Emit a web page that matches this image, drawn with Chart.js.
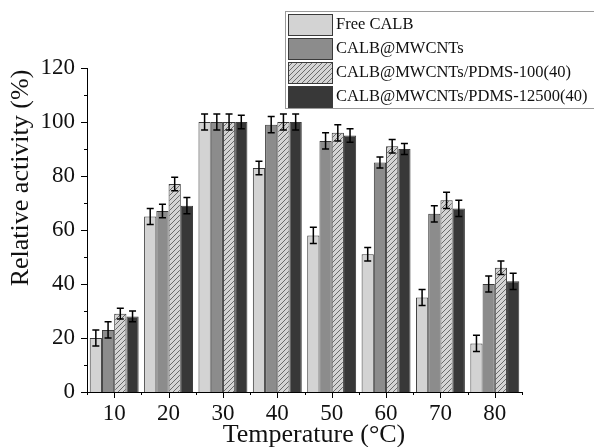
<!DOCTYPE html>
<html>
<head>
<meta charset="utf-8">
<script src="https://cdn.jsdelivr.net/npm/chart.js@4"></script>
<style>
  html, body { margin: 0; padding: 0; background: #fff; }
  #wrap { width: 594px; height: 447px; }
</style>
</head>
<body>
<div id="wrap"><canvas id="myChart" width="594" height="447"></canvas></div>
<script>
// temperatures (°C)
const temperatures = ['10', '20', '30', '40', '50', '60', '70', '80'];

// relative activity (%) for each sample
const freeCalb   = [20, 65, 100, 83, 58, 51, 35, 18];
const mwcnts     = [23, 67, 100, 99, 93, 85, 66, 40];
const pdms100    = [29, 77, 100, 100, 96, 91, 71, 46];
const pdms12500  = [28, 69, 100, 100, 95, 90, 68, 41];

// error bars (±)
const freeCalbErr  = [3, 3, 3, 2.5, 3, 2.5, 3, 3];
const mwcntsErr    = [3, 2.5, 3, 3, 3, 2, 3, 3];
const pdms100Err   = [2, 2.5, 3, 3, 3, 2.5, 3, 2.5];
const pdms12500Err = [2, 3, 2.5, 3, 2.5, 2, 3, 3];

const seriesNames = ['Free CALB', 'CALB@MWCNTs', 'CALB@MWCNTs/PDMS-100(40)', 'CALB@MWCNTs/PDMS-12500(40)'];

const yMin = 0, yMax = 120, yStep = 20;

const serif = "'Liberation Serif', 'DejaVu Serif', serif";

// hatch pattern for the PDMS-100 bars
function makeHatch() {
  const n = 5;
  const c = document.createElement('canvas');
  c.width = n; c.height = n;
  const g = c.getContext('2d');
  g.fillStyle = '#d4d4d4';
  g.fillRect(0, 0, n, n);
  g.strokeStyle = '#6a6a6a';
  g.lineWidth = 1;
  g.beginPath();
  g.moveTo(-1, n + 1); g.lineTo(n + 1, -1);
  g.moveTo(-1, 1); g.lineTo(1, -1);
  g.moveTo(n - 1, n + 1); g.lineTo(n + 1, n - 1);
  g.stroke();
  return g.createPattern(c, 'repeat');
}

const ctx = document.getElementById('myChart').getContext('2d');
const hatch = makeHatch();

const fills = ['#d3d3d3', '#8c8c8c', hatch, '#383838'];
const values = [freeCalb, mwcnts, pdms100, pdms12500];
const errors = [freeCalbErr, mwcntsErr, pdms100Err, pdms12500Err];

const datasets = seriesNames.map((name, i) => ({
  label: name,
  data: values[i],
  errors: errors[i],
  backgroundColor: fills[i],
  borderColor: '#3a3a3a',
  borderWidth: 1,
  categoryPercentage: 0.9,
  barPercentage: 1.0
}));

// error bars, minor ticks, axis titles and boxed legend
const decorations = {
  id: 'decorations',
  afterDatasetsDraw(chart) {
    const c = chart.ctx;
    const y = chart.scales.y;
    c.save();
    c.strokeStyle = '#000';
    c.lineWidth = 1.5;
    chart.data.datasets.forEach((ds, i) => {
      const meta = chart.getDatasetMeta(i);
      meta.data.forEach((bar, j) => {
        const v = ds.data[j], e = ds.errors[j];
        const top = y.getPixelForValue(v + e);
        const bot = y.getPixelForValue(v - e);
        c.beginPath();
        c.moveTo(bar.x, top); c.lineTo(bar.x, bot);
        c.moveTo(bar.x - 3.5, top); c.lineTo(bar.x + 3.5, top);
        c.moveTo(bar.x - 3.5, bot); c.lineTo(bar.x + 3.5, bot);
        c.stroke();
      });
    });
    c.restore();
  },
  afterDraw(chart) {
    const c = chart.ctx;
    const x = chart.scales.x, y = chart.scales.y;
    const area = chart.chartArea;
    c.save();
    c.strokeStyle = '#000';
    c.lineWidth = 1;
    // y ticks
    for (let v = yMin; v <= yMax; v += 10) {
      const py = Math.round(y.getPixelForValue(v)) + 0.5;
      const len = v % yStep === 0 ? 6 : 3;
      c.beginPath();
      c.moveTo(area.left - len, py); c.lineTo(area.left, py);
      c.stroke();
    }
    // x ticks: centres and group boundaries
    const step = (area.right - area.left) / temperatures.length;
    for (let k = 0; k <= temperatures.length; k++) {
      const bx = Math.round(area.left + k * step) + 0.5;
      c.beginPath();
      c.moveTo(bx, area.bottom); c.lineTo(bx, area.bottom + 3);
      c.stroke();
    }
    temperatures.forEach((t, k) => {
      const cx = Math.round(x.getPixelForValue(k)) + 0.5;
      c.beginPath();
      c.moveTo(cx, area.bottom); c.lineTo(cx, area.bottom + 6);
      c.stroke();
    });

    // axis titles
    c.fillStyle = '#111';
    c.font = '26px ' + serif;
    c.textAlign = 'center';
    c.textBaseline = 'middle';
    c.fillText('Temperature (°C)', 314, 435);
    c.save();
    c.translate(21, 178);
    c.rotate(-Math.PI / 2);
    c.fillText('Relative activity (%)', 0, 0);
    c.restore();

    // legend box (right side runs off the canvas)
    c.fillStyle = '#fff';
    c.fillRect(285, 11, 340, 97);
    c.strokeStyle = '#9a9a9a';
    c.lineWidth = 1;
    c.strokeRect(285.5, 11.5, 340, 97);
    chart.data.datasets.forEach((ds, i) => {
      const top = 14 + i * 24;
      c.fillStyle = ds.backgroundColor;
      c.fillRect(288, top, 44, 21);
      c.strokeStyle = '#3a3a3a';
      c.strokeRect(288.5, top + 0.5, 44, 21);
      c.fillStyle = '#111';
      c.font = '16.5px ' + serif;
      c.textAlign = 'left';
      c.textBaseline = 'middle';
      c.fillText(ds.label, 336, top + 11);
    });
    c.restore();
  }
};

const config = {
  type: 'bar',
  data: { labels: temperatures, datasets: datasets },
  options: {
    responsive: false,
    animation: false,
    layout: { padding: { top: 68, right: 72, left: 0, bottom: 0 } },
    plugins: {
      legend: { display: false },
      tooltip: { enabled: false }
    },
    scales: {
      x: {
        grid: { display: false },
        border: { display: true, color: '#000', width: 1 },
        ticks: { color: '#111', font: { family: serif, size: 23 }, padding: 0, maxRotation: 0 },
        afterFit(scale) { scale.height = 55; }
      },
      y: {
        min: yMin,
        max: yMax,
        grid: { display: false },
        border: { display: true, color: '#000', width: 1 },
        ticks: { stepSize: yStep, color: '#111', font: { family: serif, size: 23 }, padding: 4 },
        afterFit(scale) { scale.width = 87; }
      }
    }
  },
  plugins: [decorations]
};

var myChart = new Chart(ctx, config);
</script>
</body>
</html>
